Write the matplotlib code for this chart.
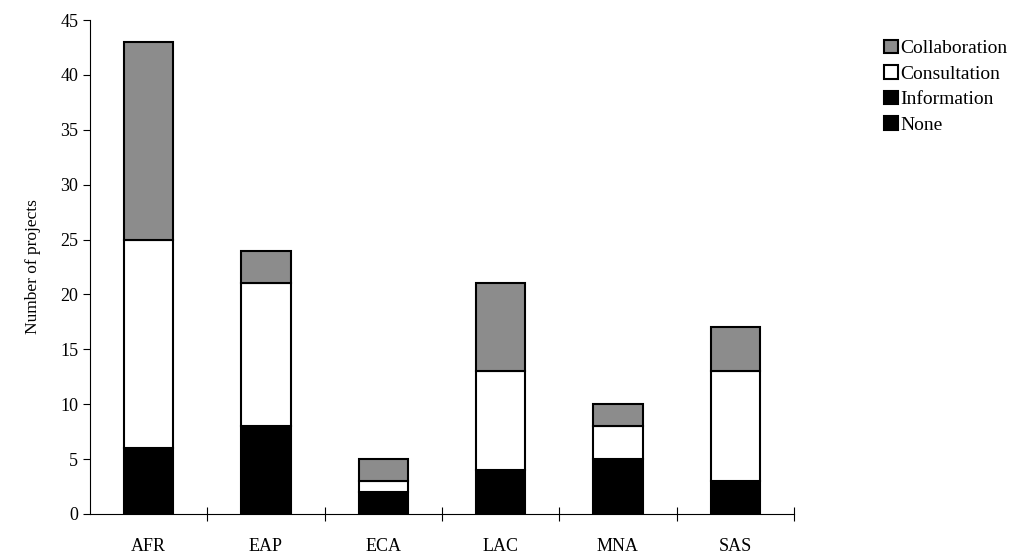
import matplotlib
matplotlib.use("Agg")
import matplotlib.pyplot as plt
import numpy as np

plt.rcParams['font.family'] = ['Liberation Serif', 'DejaVu Serif']

regions = ["AFR", "EAP", "ECA", "LAC", "MNA", "SAS"]
none = [0, 0, 0, 0, 0, 0]
information = [6, 8, 2, 4, 5, 3]
consultation = [19, 13, 1, 9, 3, 10]
collaboration = [18, 3, 2, 8, 2, 4]

fig = plt.figure(figsize=(10.29, 5.58), dpi=100)
ax = fig.add_axes([0.0875, 0.079, 0.684, 0.885])

x = np.arange(len(regions))
w = 0.42
kw = dict(width=w, edgecolor="black", linewidth=1.5)
b0 = np.zeros(len(regions))
ax.bar(x, none, bottom=b0, color="black", label="None", **kw)
b0 = b0 + none
ax.bar(x, information, bottom=b0, color="black", label="Information", **kw)
b0 = b0 + information
ax.bar(x, consultation, bottom=b0, color="white", label="Consultation", **kw)
b0 = b0 + consultation
ax.bar(x, collaboration, bottom=b0, color="#8c8c8c", label="Collaboration", **kw)

ax.set_xlim(-0.5, len(regions) - 0.5)
ax.set_ylim(0, 45)
ax.set_yticks(range(0, 46, 5))
ax.set_xticks(x)
ax.set_xticklabels(regions, fontsize=13)
ax.set_xticks(np.arange(0.5, len(regions), 1.0), minor=True)
ax.tick_params(axis="x", which="major", length=0, pad=17)
ax.tick_params(axis="x", which="minor", direction="inout", length=10, width=0.8)
ax.tick_params(axis="y", labelsize=13, direction="out", length=5, width=0.8)
for s in ["top", "right"]:
    ax.spines[s].set_visible(False)
ax.spines["left"].set_linewidth(0.8)
ax.spines["bottom"].set_linewidth(0.8)
ax.set_ylabel("Number of projects", fontsize=12.5, labelpad=14)

h, l = ax.get_legend_handles_labels()
fig.legend(h[::-1], l[::-1], loc="upper left", bbox_to_anchor=(0.842, 0.96),
           frameon=False, fontsize=14, handlelength=0.7, handleheight=0.7,
           handletextpad=0.15, labelspacing=0.4)

fig.savefig("out.png", dpi=100)
